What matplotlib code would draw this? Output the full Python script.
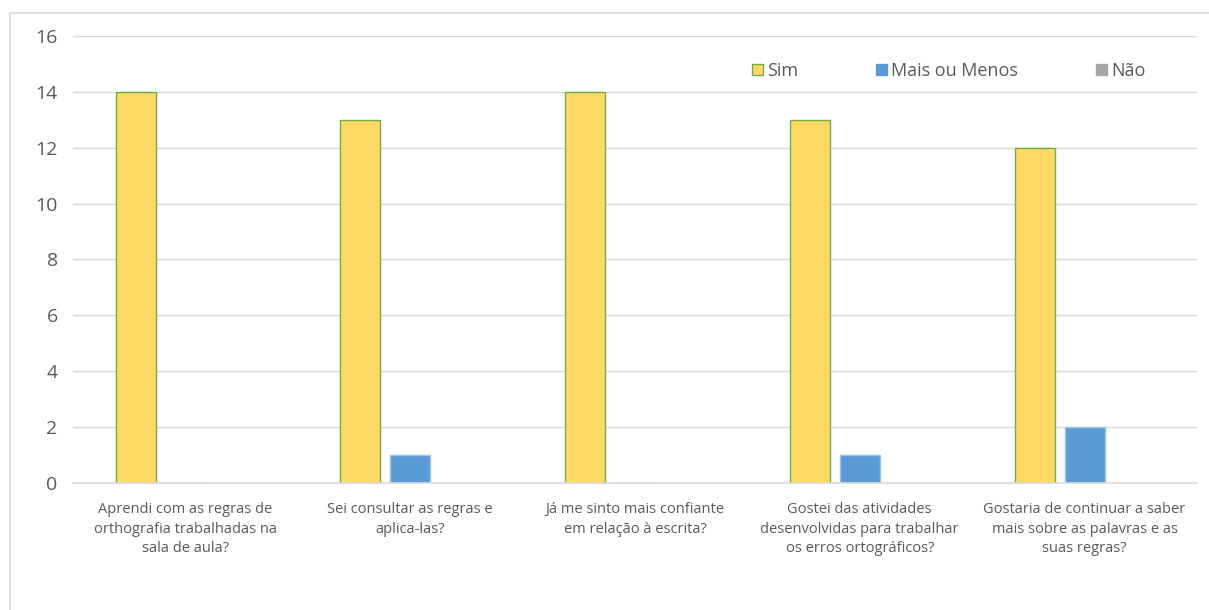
import numpy as np
import matplotlib.pyplot as plt
from matplotlib.lines import Line2D

categories = [
    "Aprendi com as regras de\northografia trabalhadas na\nsala de aula?",
    "Sei consultar as regras e\naplica-las?",
    "Já me sinto mais confiante\nem relação à escrita?",
    "Gostei das atividades\ndesenvolvidas para trabalhar\nos erros ortográficos?",
    "Gostaria de continuar a saber\nmais sobre as palavras e as\nsuas regras?",
]
sim = [14, 13, 14, 13, 12]
mais_ou_menos = [0, 1, 0, 1, 2]
nao = [0, 0, 0, 0, 0]

plt.rcParams["font.family"] = ["Open Sans", "DejaVu Sans"]

fig = plt.figure(figsize=(12.09, 6.10), dpi=100)
ax = fig.add_axes([0.0604, 0.2082, 0.9296, 0.7328])

x = np.arange(len(categories))
w = 0.178
off = 0.222
ax.bar(x - off, sim, w, color="#FFD966", edgecolor="#70AD47", linewidth=1.0, label="Sim", zorder=2)
ax.bar(x, mais_ou_menos, w, color="#5B9BD5", edgecolor="#9DC3E6", linewidth=1.0, label="Mais ou Menos", zorder=2)
ax.bar(x + off, nao, w, color="#A5A5A5", edgecolor="#A5A5A5", linewidth=0, label="Não", zorder=2)

ax.set_xlim(-0.5, len(categories) - 0.5)
ax.set_ylim(0, 16)
ax.set_yticks(range(0, 17, 2))
ax.yaxis.grid(True, color="#D9D9D9", linewidth=1.0, zorder=0)
ax.set_axisbelow(True)
for s in ["top", "right", "left"]:
    ax.spines[s].set_visible(False)
ax.spines["bottom"].set_color("#D9D9D9")
ax.spines["bottom"].set_linewidth(1.2)
ax.spines["bottom"].set_zorder(3)
ax.tick_params(axis="y", length=0, labelsize=14, labelcolor="#595959", pad=11)
ax.tick_params(axis="x", length=0, labelsize=10.5, labelcolor="#595959", pad=14)
ax.set_xticks(x)
ax.set_xticklabels(categories, linespacing=1.4)

handles = [
    plt.Rectangle((0, 0), 1, 1, facecolor="#FFD966", edgecolor="#70AD47"),
    plt.Rectangle((0, 0), 1, 1, facecolor="#5B9BD5", edgecolor="#5B9BD5"),
    plt.Rectangle((0, 0), 1, 1, facecolor="#A5A5A5", edgecolor="#A5A5A5"),
]
leg = ax.legend(handles, ["Sim", "Mais ou Menos", "Não"], ncol=3, frameon=False,
                loc="center left", bbox_to_anchor=(0.604, 0.922), fontsize=13,
                borderpad=0, borderaxespad=0,
                handlelength=0.6, handleheight=0.6, handletextpad=0.25,
                columnspacing=4.3, labelcolor="#595959")

# outer chart border (top and left visible)
fig.add_artist(Line2D([10 / 1209, 1.0], [1 - 13 / 610, 1 - 13 / 610], color="#D9D9D9", linewidth=1.2))
fig.add_artist(Line2D([10 / 1209, 10 / 1209], [0, 1 - 13 / 610], color="#D9D9D9", linewidth=1.2))

fig.savefig("out.png", dpi=100)
